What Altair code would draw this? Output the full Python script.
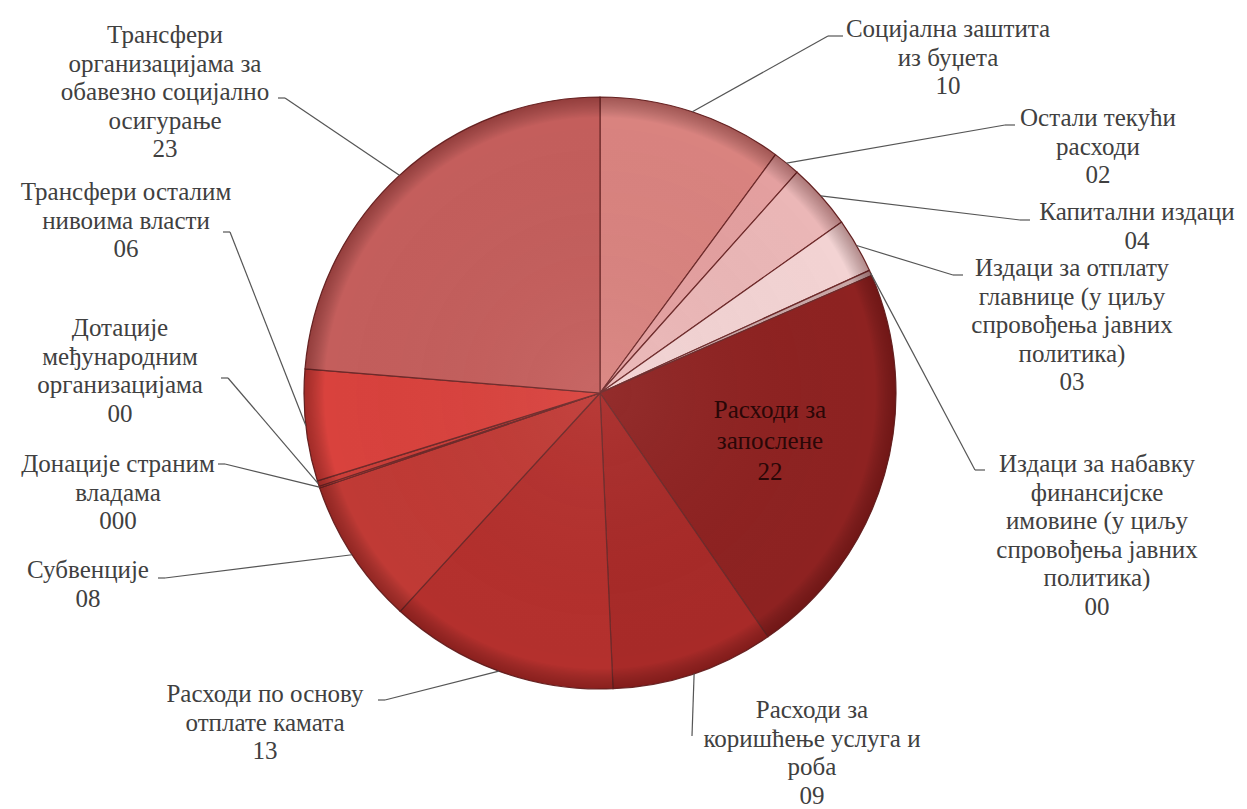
import altair as alt
import pandas as pd

# ---- data ----
names = [
    "Социјална заштита\nиз буџета",
    "Остали текући\nрасходи",
    "Капитални издаци",
    "Издаци за отплату\nглавнице (у циљу\nспровођења јавних\nполитика)",
    "Издаци за набавку\nфинансијске\nимовине  (у циљу\nспровођења јавних\nполитика)",
    "Расходи за\nзапослене",
    "Расходи за\nкоришћење услуга  и\nроба",
    "Расходи по основу\nотплате камата",
    "Субвенције",
    "Донације страним\nвладама",
    "Дотације\nмеђународним\nорганизацијама",
    "Трансфери осталим\nнивоима власти",
    "Трансфери\nорганизацијама за\nобавезно социјално\nосигурање",
]
values = [10.1, 1.5, 3.6, 3.0, 0.3, 21.9, 8.9, 12.5, 8.0, 0.1, 0.3, 6.1, 23.7]
value_labels = ["10", "02", "04", "03", "00", "22", "09", "13", "08", "000", "00", "06", "23"]
colors = ["#d9837f", "#e4a0a0", "#ebb7b7", "#f3d3d3", "#c9a7a7", "#8e2221",
          "#a82a28", "#b4302d", "#c03a35", "#c43c37", "#cb3e39", "#d9423d", "#c45e5c"]

# ---- layout (view pixels) ----
CX, CY, R = 592, 385, 296
label_x = [940, 1090, 1129, 1064, 1089, 762, 804, 257, 80, 110, 112, 118, 157]
label_y = [9, 98, 192, 248, 444, 390, 690, 674, 550, 444, 308, 172, 15]
elbow_x = [820, 997, 1012, 945, 967, None, 684, 377, 157, 217, 220, 222, 277]
elbow_y = [28, 117, 212, 267, 462, None, 728, 692, 570, 456, 370, 224, 90]
hook_x = [835, 1007, 1022, 955, 977, None, 684, 370, 150, 210, 213, 215, 270]

df = pd.DataFrame({
    "idx": list(range(len(names))),
    "name": names,
    "value": values,
    "vlabel": value_labels,
    "lx": label_x, "ly": label_y,
    "bx": elbow_x, "by": elbow_y, "hx": hook_x,
})
df["text"] = df["name"] + "\n" + df["vlabel"]

FONT = "Liberation Serif, 'Times New Roman', Times, serif"
FS = 25
LH = 28.5

base = alt.Chart(df)

pie = base.mark_arc(radius=R, stroke="#6e2a2a", strokeWidth=1.2).encode(
    theta=alt.Theta("value:Q", stack=True),
    order=alt.Order("idx:Q"),
    color=alt.Color("name:N", scale=alt.Scale(domain=names, range=colors), legend=None),
    x=alt.value(CX), y=alt.value(CY),
)

shade = alt.Chart(pd.DataFrame({"a": [1]})).mark_arc(
    radius=R, theta=0, theta2=6.2832,
    fill=alt.RadialGradient(
        gradient="radial", x1=0.5, y1=0.5, r1=0, x2=0.5, y2=0.5, r2=0.5,
        stops=[alt.GradientStop(offset=0, color="rgba(255,255,255,0.05)"),
               alt.GradientStop(offset=0.93, color="rgba(0,0,0,0)"),
               alt.GradientStop(offset=1, color="rgba(60,0,0,0.35)")]),
).encode(x=alt.value(CX), y=alt.value(CY))

geo = base.transform_window(
    cum="sum(value)", sort=[alt.SortField("idx")]
).transform_joinaggregate(
    total="sum(value)"
).transform_calculate(
    mid="2*PI*(datum.cum - datum.value/2)/datum.total",
).transform_calculate(
    ex=f"{CX} + {R}*sin(datum.mid)",
    ey=f"{CY} - {R}*cos(datum.mid)",
)

leaders = geo.transform_filter("isValid(datum.bx)").mark_rule(
    color="#555555", strokeWidth=1.2
).encode(
    x=alt.X("ex:Q", scale=None), y=alt.Y("ey:Q", scale=None),
    x2="bx:Q", y2="by:Q",
)

hooks = geo.transform_filter("isValid(datum.bx)").mark_rule(
    color="#555555", strokeWidth=1.2
).encode(
    x=alt.X("bx:Q", scale=None), y=alt.Y("by:Q", scale=None), x2="hx:Q",
)

labels = base.transform_filter("datum.idx != 5").mark_text(
    font=FONT, fontSize=FS, lineHeight=LH, lineBreak="\n",
    align="center", baseline="top", color="#404040",
).encode(
    x=alt.X("lx:Q", scale=None), y=alt.Y("ly:Q", scale=None), text="text:N",
)

inner = base.transform_filter("datum.idx == 5").mark_text(
    font=FONT, fontSize=FS, lineHeight=31, lineBreak="\n",
    align="center", baseline="top", color="#2a0707",
).encode(
    x=alt.X("lx:Q", scale=None), y=alt.Y("ly:Q", scale=None), text="text:N",
)

chart = alt.layer(pie, shade, leaders, hooks, labels, inner).properties(
    width=1225, height=785, padding=0
).configure_view(stroke=None)

chart.save("out.html", embed_options={"renderer": "svg", "actions": False})
